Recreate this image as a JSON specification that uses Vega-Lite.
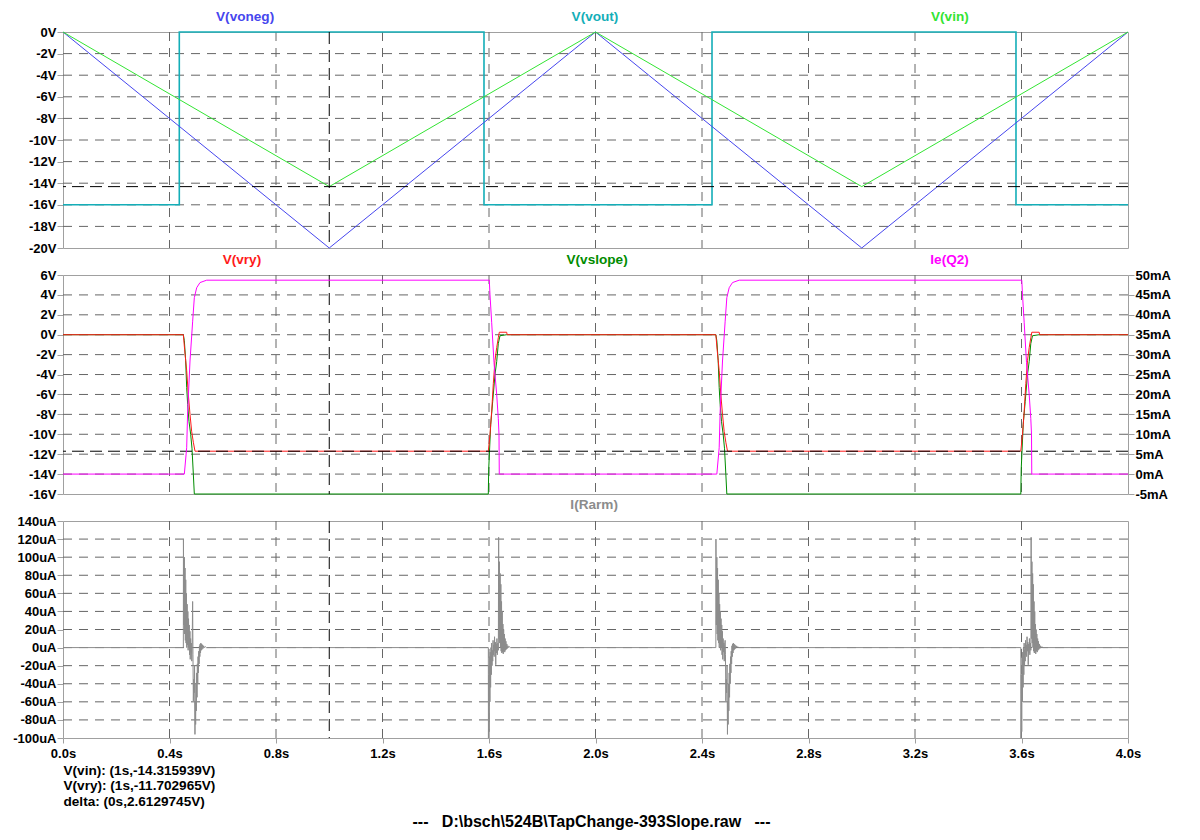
{
"$schema":"https://vega.github.io/schema/vega-lite/v6.json",
"background":"#ffffff",
"padding":{"left":12,"top":9,"right":5,"bottom":5},
"bounds":"flush",
"spacing":27,
"title":{"text":"---\u00a0\u00a0\u00a0D:\\bsch\\524B\\TapChange-393Slope.raw\u00a0\u00a0\u00a0---","orient":"bottom","anchor":"middle","offset":6,"fontSize":16,"fontWeight":"bold","font":"Liberation Sans","color":"#000000"},
"config":{
 "font":"Liberation Sans",
 "view":{"stroke":"#a0a0a0","strokeWidth":1},
 "axis":{"domain":false,"grid":false,"labelFont":"Liberation Sans","labelFontSize":13,"labelFontWeight":"bold","labelColor":"#000000","tickColor":"#a0a0a0","tickSize":6,"labelPadding":1,"labelFlush":false,"titleFont":"Liberation Sans","titleFontSize":13.6,"titleFontWeight":"bold","titleColor":"#000000"}
},
"datasets":{
"xgrid":[{"g":0.4},{"g":0.8},{"g":1.2},{"g":1.6},{"g":2.0},{"g":2.4},{"g":2.8},{"g":3.2},{"g":3.6}],
"top":[
{"s":"V(vout)","t":0,"v":-16},{"s":"V(vout)","t":0.4368,"v":-16},{"s":"V(vout)","t":0.4368,"v":0},{"s":"V(vout)","t":1.5812,"v":0},{"s":"V(vout)","t":1.5812,"v":-16},{"s":"V(vout)","t":2.4376,"v":-16},{"s":"V(vout)","t":2.4376,"v":0},{"s":"V(vout)","t":3.5793,"v":0},{"s":"V(vout)","t":3.5793,"v":-16},{"s":"V(vout)","t":4,"v":-16},
{"s":"V(voneg)","t":0,"v":0},{"s":"V(voneg)","t":1,"v":-20},{"s":"V(voneg)","t":2,"v":0},{"s":"V(voneg)","t":3,"v":-20},{"s":"V(voneg)","t":4,"v":0},
{"s":"V(vin)","t":0,"v":0},{"s":"V(vin)","t":1,"v":-14.315939},{"s":"V(vin)","t":2,"v":0},{"s":"V(vin)","t":3,"v":-14.315939},{"s":"V(vin)","t":4,"v":0}
],
"mid":[
{"s":"V(vslope)","t":0,"v":0},{"s":"V(vslope)","t":0.452,"v":0},{"s":"V(vslope)","t":0.4557,"v":-0.6},{"s":"V(vslope)","t":0.4607,"v":-2.6},{"s":"V(vslope)","t":0.4645,"v":-5.3},{"s":"V(vslope)","t":0.4682,"v":-7},{"s":"V(vslope)","t":0.4732,"v":-8.7},{"s":"V(vslope)","t":0.4795,"v":-10},{"s":"V(vslope)","t":0.4845,"v":-11.4},{"s":"V(vslope)","t":0.4895,"v":-14},{"s":"V(vslope)","t":0.4932,"v":-16},
{"s":"V(vslope)","t":1.5974,"v":-16},{"s":"V(vslope)","t":1.5989,"v":-13.5},{"s":"V(vslope)","t":1.6064,"v":-9},{"s":"V(vslope)","t":1.6139,"v":-6.7},{"s":"V(vslope)","t":1.6225,"v":-4},{"s":"V(vslope)","t":1.6289,"v":-2.7},{"s":"V(vslope)","t":1.6349,"v":-0.9},{"s":"V(vslope)","t":1.6413,"v":-0.1},{"s":"V(vslope)","t":1.6665,"v":0},
{"s":"V(vslope)","t":2.452,"v":0},{"s":"V(vslope)","t":2.4557,"v":-0.6},{"s":"V(vslope)","t":2.4607,"v":-2.6},{"s":"V(vslope)","t":2.4645,"v":-5.3},{"s":"V(vslope)","t":2.4682,"v":-7},{"s":"V(vslope)","t":2.4732,"v":-8.7},{"s":"V(vslope)","t":2.4795,"v":-10},{"s":"V(vslope)","t":2.4845,"v":-11.4},{"s":"V(vslope)","t":2.4895,"v":-14},{"s":"V(vslope)","t":2.4932,"v":-16},
{"s":"V(vslope)","t":3.5974,"v":-16},{"s":"V(vslope)","t":3.5989,"v":-13.5},{"s":"V(vslope)","t":3.6064,"v":-9},{"s":"V(vslope)","t":3.6139,"v":-6.7},{"s":"V(vslope)","t":3.6225,"v":-4},{"s":"V(vslope)","t":3.6289,"v":-2.7},{"s":"V(vslope)","t":3.6349,"v":-0.9},{"s":"V(vslope)","t":3.6413,"v":-0.1},{"s":"V(vslope)","t":3.6665,"v":0},{"s":"V(vslope)","t":4,"v":0},
{"s":"V(vry)","t":0,"v":0},{"s":"V(vry)","t":0.452,"v":0},{"s":"V(vry)","t":0.4569,"v":-1.5},{"s":"V(vry)","t":0.4645,"v":-3.6},{"s":"V(vry)","t":0.4707,"v":-6},{"s":"V(vry)","t":0.477,"v":-8},{"s":"V(vry)","t":0.4832,"v":-9.7},{"s":"V(vry)","t":0.4895,"v":-10.8},{"s":"V(vry)","t":0.4958,"v":-11.7},
{"s":"V(vry)","t":1.5974,"v":-11.7},{"s":"V(vry)","t":1.6038,"v":-10},{"s":"V(vry)","t":1.6101,"v":-7.7},{"s":"V(vry)","t":1.6162,"v":-4.9},{"s":"V(vry)","t":1.6225,"v":-2.6},{"s":"V(vry)","t":1.6289,"v":-1.3},{"s":"V(vry)","t":1.635,"v":-0.3},{"s":"V(vry)","t":1.6387,"v":0.25},{"s":"V(vry)","t":1.6665,"v":0.25},{"s":"V(vry)","t":1.668,"v":0},
{"s":"V(vry)","t":2.452,"v":0},{"s":"V(vry)","t":2.4569,"v":-1.5},{"s":"V(vry)","t":2.4645,"v":-3.6},{"s":"V(vry)","t":2.4707,"v":-6},{"s":"V(vry)","t":2.477,"v":-8},{"s":"V(vry)","t":2.4832,"v":-9.7},{"s":"V(vry)","t":2.4895,"v":-10.8},{"s":"V(vry)","t":2.4958,"v":-11.7},
{"s":"V(vry)","t":3.5974,"v":-11.7},{"s":"V(vry)","t":3.6038,"v":-10},{"s":"V(vry)","t":3.6101,"v":-7.7},{"s":"V(vry)","t":3.6162,"v":-4.9},{"s":"V(vry)","t":3.6225,"v":-2.6},{"s":"V(vry)","t":3.6289,"v":-1.3},{"s":"V(vry)","t":3.635,"v":-0.3},{"s":"V(vry)","t":3.6387,"v":0.25},{"s":"V(vry)","t":3.6665,"v":0.25},{"s":"V(vry)","t":3.668,"v":0},{"s":"V(vry)","t":4,"v":0}
],
"q2":[
{"s":"Ie(Q2)","t":0,"i":0},{"s":"Ie(Q2)","t":0.4557,"i":0},{"s":"Ie(Q2)","t":0.4645,"i":6.6},{"s":"Ie(Q2)","t":0.4682,"i":15.8},{"s":"Ie(Q2)","t":0.477,"i":28.4},{"s":"Ie(Q2)","t":0.487,"i":38.4},{"s":"Ie(Q2)","t":0.4932,"i":44.3},{"s":"Ie(Q2)","t":0.5021,"i":46.8},{"s":"Ie(Q2)","t":0.5146,"i":48.1},{"s":"Ie(Q2)","t":0.5397,"i":48.7},
{"s":"Ie(Q2)","t":1.6011,"i":48.7},{"s":"Ie(Q2)","t":1.6038,"i":45},{"s":"Ie(Q2)","t":1.6101,"i":38},{"s":"Ie(Q2)","t":1.6188,"i":28},{"s":"Ie(Q2)","t":1.6289,"i":20},{"s":"Ie(Q2)","t":1.6349,"i":14},{"s":"Ie(Q2)","t":1.6376,"i":10},{"s":"Ie(Q2)","t":1.6386,"i":0},
{"s":"Ie(Q2)","t":2.4557,"i":0},{"s":"Ie(Q2)","t":2.4645,"i":6.6},{"s":"Ie(Q2)","t":2.4682,"i":15.8},{"s":"Ie(Q2)","t":2.477,"i":28.4},{"s":"Ie(Q2)","t":2.487,"i":38.4},{"s":"Ie(Q2)","t":2.4932,"i":44.3},{"s":"Ie(Q2)","t":2.5021,"i":46.8},{"s":"Ie(Q2)","t":2.5146,"i":48.1},{"s":"Ie(Q2)","t":2.5397,"i":48.7},
{"s":"Ie(Q2)","t":3.6011,"i":48.7},{"s":"Ie(Q2)","t":3.6038,"i":45},{"s":"Ie(Q2)","t":3.6101,"i":38},{"s":"Ie(Q2)","t":3.6188,"i":28},{"s":"Ie(Q2)","t":3.6289,"i":20},{"s":"Ie(Q2)","t":3.6349,"i":14},{"s":"Ie(Q2)","t":3.6376,"i":10},{"s":"Ie(Q2)","t":3.6386,"i":0},{"s":"Ie(Q2)","t":4,"i":0}
],
"rarm":[
{"t":0,"a":0},
{"t":0.452,"a":0},{"t":0.4524,"a":120},{"t":0.4539,"a":25},{"t":0.4558,"a":100},{"t":0.4569,"a":15},{"t":0.4584,"a":88},{"t":0.4595,"a":8},{"t":0.461,"a":75},{"t":0.4621,"a":5},{"t":0.4636,"a":60},{"t":0.4648,"a":0},{"t":0.4663,"a":48},{"t":0.4674,"a":3},{"t":0.4689,"a":40},{"t":0.47,"a":-3},{"t":0.4715,"a":32},{"t":0.4727,"a":0},{"t":0.4742,"a":25},{"t":0.4753,"a":-8},{"t":0.4768,"a":18},{"t":0.4779,"a":-13},{"t":0.4794,"a":10},{"t":0.4805,"a":-5},{"t":0.482,"a":5},{"t":0.4836,"a":-15},{"t":0.4851,"a":3},{"t":0.4869,"a":51},{"t":0.4881,"a":-8},{"t":0.4896,"a":-59},{"t":0.4911,"a":-35},{"t":0.4926,"a":-50},{"t":0.4941,"a":-20},{"t":0.4956,"a":-96},{"t":0.4967,"a":-60},{"t":0.4982,"a":-85},{"t":0.4993,"a":-40},{"t":0.5008,"a":-70},{"t":0.502,"a":-28},{"t":0.5035,"a":-55},{"t":0.5046,"a":-18},{"t":0.5061,"a":-40},{"t":0.5072,"a":-10},{"t":0.5087,"a":-28},{"t":0.5098,"a":-4},{"t":0.5113,"a":-18},{"t":0.5125,"a":2},{"t":0.514,"a":-10},{"t":0.5151,"a":4},{"t":0.5166,"a":-6},{"t":0.5177,"a":5},{"t":0.5192,"a":-3},{"t":0.5207,"a":4},{"t":0.5222,"a":-2},{"t":0.5241,"a":3},{"t":0.526,"a":-1},{"t":0.5282,"a":2},{"t":0.5309,"a":0},{"t":0.5346,"a":1},{"t":0.5384,"a":0},
{"t":1.5975,"a":0},{"t":1.5979,"a":-100},{"t":1.5994,"a":-30},{"t":1.6009,"a":-93},{"t":1.602,"a":-10},{"t":1.6035,"a":-60},{"t":1.6046,"a":-5},{"t":1.6061,"a":-44},{"t":1.6073,"a":0},{"t":1.6088,"a":-30},{"t":1.6099,"a":5},{"t":1.6114,"a":-20},{"t":1.6125,"a":-3},{"t":1.614,"a":-15},{"t":1.6152,"a":8},{"t":1.6167,"a":-8},{"t":1.6178,"a":3},{"t":1.6193,"a":-10},{"t":1.6208,"a":12},{"t":1.6223,"a":-4},{"t":1.6238,"a":6},{"t":1.6253,"a":-19},{"t":1.6268,"a":4},{"t":1.6283,"a":-6},{"t":1.6298,"a":10},{"t":1.6313,"a":-8},{"t":1.6332,"a":5},{"t":1.6351,"a":-3},{"t":1.6362,"a":122},{"t":1.6377,"a":10},{"t":1.6392,"a":95},{"t":1.6403,"a":5},{"t":1.6418,"a":82},{"t":1.6429,"a":0},{"t":1.6445,"a":70},{"t":1.6456,"a":-4},{"t":1.6471,"a":51},{"t":1.6482,"a":-6},{"t":1.6497,"a":40},{"t":1.6508,"a":-5},{"t":1.6523,"a":26},{"t":1.6535,"a":-7},{"t":1.655,"a":20},{"t":1.6561,"a":-4},{"t":1.6576,"a":15},{"t":1.6591,"a":-5},{"t":1.6606,"a":10},{"t":1.6621,"a":-3},{"t":1.6636,"a":7},{"t":1.6651,"a":-2},{"t":1.667,"a":4},{"t":1.6689,"a":-1},{"t":1.6711,"a":2},{"t":1.6737,"a":0},{"t":1.6764,"a":1},{"t":1.6801,"a":0},
{"t":2.452,"a":0},{"t":2.4524,"a":120},{"t":2.4539,"a":25},{"t":2.4558,"a":100},{"t":2.4569,"a":15},{"t":2.4584,"a":88},{"t":2.4595,"a":8},{"t":2.461,"a":75},{"t":2.4621,"a":5},{"t":2.4636,"a":60},{"t":2.4648,"a":0},{"t":2.4663,"a":48},{"t":2.4674,"a":3},{"t":2.4689,"a":40},{"t":2.47,"a":-3},{"t":2.4715,"a":32},{"t":2.4727,"a":0},{"t":2.4742,"a":25},{"t":2.4753,"a":-8},{"t":2.4768,"a":18},{"t":2.4779,"a":-13},{"t":2.4794,"a":10},{"t":2.4805,"a":-5},{"t":2.482,"a":5},{"t":2.4836,"a":-15},{"t":2.4851,"a":3},{"t":2.4869,"a":8},{"t":2.4881,"a":-8},{"t":2.4896,"a":-59},{"t":2.4911,"a":-35},{"t":2.4926,"a":-50},{"t":2.4941,"a":-20},{"t":2.4956,"a":-96},{"t":2.4967,"a":-60},{"t":2.4982,"a":-85},{"t":2.4993,"a":-40},{"t":2.5008,"a":-70},{"t":2.502,"a":-28},{"t":2.5035,"a":-55},{"t":2.5046,"a":-18},{"t":2.5061,"a":-40},{"t":2.5072,"a":-10},{"t":2.5087,"a":-28},{"t":2.5098,"a":-4},{"t":2.5113,"a":-18},{"t":2.5125,"a":2},{"t":2.514,"a":-10},{"t":2.5151,"a":4},{"t":2.5166,"a":-6},{"t":2.5177,"a":5},{"t":2.5192,"a":-3},{"t":2.5207,"a":4},{"t":2.5222,"a":-2},{"t":2.5241,"a":3},{"t":2.526,"a":-1},{"t":2.5282,"a":2},{"t":2.5309,"a":0},{"t":2.5346,"a":1},{"t":2.5384,"a":0},
{"t":3.5975,"a":0},{"t":3.5979,"a":-100},{"t":3.5994,"a":-30},{"t":3.6009,"a":-93},{"t":3.602,"a":-10},{"t":3.6035,"a":-60},{"t":3.6046,"a":-5},{"t":3.6061,"a":-44},{"t":3.6073,"a":0},{"t":3.6088,"a":-30},{"t":3.6099,"a":5},{"t":3.6114,"a":-20},{"t":3.6125,"a":-3},{"t":3.614,"a":-15},{"t":3.6152,"a":8},{"t":3.6167,"a":-8},{"t":3.6178,"a":3},{"t":3.6193,"a":-10},{"t":3.6208,"a":12},{"t":3.6223,"a":-4},{"t":3.6238,"a":6},{"t":3.6253,"a":-19},{"t":3.6268,"a":4},{"t":3.6283,"a":-6},{"t":3.6298,"a":10},{"t":3.6313,"a":-8},{"t":3.6332,"a":5},{"t":3.6351,"a":-3},{"t":3.6362,"a":122},{"t":3.6377,"a":10},{"t":3.6392,"a":95},{"t":3.6403,"a":5},{"t":3.6418,"a":82},{"t":3.6429,"a":0},{"t":3.6445,"a":70},{"t":3.6456,"a":-4},{"t":3.6471,"a":51},{"t":3.6482,"a":-6},{"t":3.6497,"a":40},{"t":3.6508,"a":-5},{"t":3.6523,"a":26},{"t":3.6535,"a":-7},{"t":3.655,"a":20},{"t":3.6561,"a":-4},{"t":3.6576,"a":15},{"t":3.6591,"a":-5},{"t":3.6606,"a":10},{"t":3.6621,"a":-3},{"t":3.6636,"a":7},{"t":3.6651,"a":-2},{"t":3.667,"a":4},{"t":3.6689,"a":-1},{"t":3.6711,"a":2},{"t":3.6737,"a":0},{"t":3.6764,"a":1},{"t":3.6801,"a":0},
{"t":4,"a":0}
]
},
"vconcat":[
{
 "width":1065,"height":216,
 "layer":[
  {"data":{"name":"xgrid"},"mark":{"type":"rule","color":"#666666","strokeDash":[9,7],"strokeWidth":1},
   "encoding":{"x":{"field":"g","type":"quantitative","scale":{"domain":[0,4],"nice":false,"zero":false},"axis":{"values":[0,0.4,0.8,1.2,1.6,2,2.4,2.8,3.2,3.6,4],"labels":false,"ticks":false,"title":null}}}},
  {"data":{"values":[{"g":-2},{"g":-4},{"g":-6},{"g":-8},{"g":-10},{"g":-12},{"g":-14},{"g":-16},{"g":-18}]},"mark":{"type":"rule","color":"#666666","strokeDash":[9,7],"strokeWidth":1},
   "encoding":{"y":{"field":"g","type":"quantitative","scale":{"domain":[-20,0],"nice":false,"zero":false},"axis":{"values":[0,-2,-4,-6,-8,-10,-12,-14,-16,-18,-20],"labelExpr":"datum.value+'V'","title":null,"labelOverlap":false}}}},
  {"data":{"name":"top"},"transform":[{"filter":"datum.s == 'V(vout)'"}],
   "mark":{"type":"line","strokeWidth":1.6},
   "encoding":{
    "x":{"field":"t","type":"quantitative","axis":{"values":[0,0.4,0.8,1.2,1.6,2,2.4,2.8,3.2,3.6,4],"labels":false,"ticks":false,"title":null}},
    "y":{"field":"v","type":"quantitative","axis":{"values":[0,-2,-4,-6,-8,-10,-12,-14,-16,-18,-20],"labelExpr":"datum.value+'V'","title":null,"labelOverlap":false}},
    "color":{"field":"s","type":"nominal","scale":{"domain":["V(voneg)","V(vout)","V(vin)","V(vry)","V(vslope)","Ie(Q2)","I(Rarm)"],"range":["#4646ee","#14aeb8","#33e433","#ff1a1a","#008c00","#ff00ff","#8c8c8c"]},"legend":null},
    "order":{"value":null}
   }},
  {"data":{"name":"top"},"transform":[{"filter":"datum.s != 'V(vout)'"}],
   "mark":{"type":"line","strokeWidth":1},
   "encoding":{
    "x":{"field":"t","type":"quantitative","axis":{"values":[0,0.4,0.8,1.2,1.6,2,2.4,2.8,3.2,3.6,4],"labels":false,"ticks":false,"title":null}},
    "y":{"field":"v","type":"quantitative","axis":{"values":[0,-2,-4,-6,-8,-10,-12,-14,-16,-18,-20],"labelExpr":"datum.value+'V'","title":null,"labelOverlap":false}},
    "color":{"field":"s","type":"nominal","scale":{"domain":["V(voneg)","V(vout)","V(vin)","V(vry)","V(vslope)","Ie(Q2)","I(Rarm)"],"range":["#4646ee","#14aeb8","#33e433","#ff1a1a","#008c00","#ff00ff","#8c8c8c"]},"legend":null},
    "order":{"value":null}
   }},
  {"data":{"values":[{"t":1}]},"mark":{"type":"rule","color":"#000000","strokeDash":[12,6],"strokeWidth":1},
   "encoding":{"x":{"field":"t","type":"quantitative","axis":{"values":[0,0.4,0.8,1.2,1.6,2,2.4,2.8,3.2,3.6,4],"labels":false,"ticks":false,"title":null}}}},
  {"data":{"values":[{"v":-14.315939}]},"mark":{"type":"rule","color":"#000000","strokeDash":[12,6],"strokeWidth":1},
   "encoding":{"y":{"field":"v","type":"quantitative","axis":{"values":[0,-2,-4,-6,-8,-10,-12,-14,-16,-18,-20],"labelExpr":"datum.value+'V'","title":null,"labelOverlap":false}}}},
  {"data":{"values":[{"s":"V(voneg)","t":0.684},{"s":"V(vout)","t":1.998},{"s":"V(vin)","t":3.331}]},
   "mark":{"type":"text","dy":-15,"fontSize":13.6,"fontWeight":"bold","font":"Liberation Sans"},
   "encoding":{
    "x":{"field":"t","type":"quantitative","axis":{"values":[0,0.4,0.8,1.2,1.6,2,2.4,2.8,3.2,3.6,4],"labels":false,"ticks":false,"title":null}},
    "y":{"datum":0,"type":"quantitative","axis":{"values":[0,-2,-4,-6,-8,-10,-12,-14,-16,-18,-20],"labelExpr":"datum.value+'V'","title":null,"labelOverlap":false}},
    "text":{"field":"s"},
    "color":{"field":"s","type":"nominal","scale":{"domain":["V(voneg)","V(vout)","V(vin)","V(vry)","V(vslope)","Ie(Q2)","I(Rarm)"],"range":["#4646ee","#14aeb8","#33e433","#ff1a1a","#008c00","#ff00ff","#8c8c8c"]},"legend":null}
   }}
 ]
},
{
 "width":1065,"height":219,
 "layer":[
  {"layer":[
   {"data":{"name":"xgrid"},"mark":{"type":"rule","color":"#666666","strokeDash":[9,7],"strokeWidth":1},
    "encoding":{"x":{"field":"g","type":"quantitative","scale":{"domain":[0,4],"nice":false,"zero":false},"axis":{"values":[0,0.4,0.8,1.2,1.6,2,2.4,2.8,3.2,3.6,4],"labels":false,"ticks":false,"title":null}}}},
   {"data":{"values":[{"g":4},{"g":2},{"g":0},{"g":-2},{"g":-4},{"g":-6},{"g":-8},{"g":-10},{"g":-12},{"g":-14}]},"mark":{"type":"rule","color":"#666666","strokeDash":[9,7],"strokeWidth":1},
    "encoding":{"y":{"field":"g","type":"quantitative","scale":{"domain":[-16,6],"nice":false,"zero":false},"axis":{"values":[6,4,2,0,-2,-4,-6,-8,-10,-12,-14,-16],"labelExpr":"datum.value+'V'","title":null,"labelOverlap":false}}}},
   {"data":{"name":"mid"},
    "mark":{"type":"line","strokeWidth":1},
    "encoding":{
     "x":{"field":"t","type":"quantitative","axis":{"values":[0,0.4,0.8,1.2,1.6,2,2.4,2.8,3.2,3.6,4],"labels":false,"ticks":false,"title":null}},
     "y":{"field":"v","type":"quantitative","axis":{"values":[6,4,2,0,-2,-4,-6,-8,-10,-12,-14,-16],"labelExpr":"datum.value+'V'","title":null,"labelOverlap":false}},
     "color":{"field":"s","type":"nominal","scale":{"domain":["V(voneg)","V(vout)","V(vin)","V(vry)","V(vslope)","Ie(Q2)","I(Rarm)"],"range":["#4646ee","#14aeb8","#33e433","#ff1a1a","#008c00","#ff00ff","#8c8c8c"]},"legend":null},
     "order":{"value":null}
    }},
   {"data":{"values":[{"t":1}]},"mark":{"type":"rule","color":"#000000","strokeDash":[12,6],"strokeWidth":1},
    "encoding":{"x":{"field":"t","type":"quantitative","axis":{"values":[0,0.4,0.8,1.2,1.6,2,2.4,2.8,3.2,3.6,4],"labels":false,"ticks":false,"title":null}}}},
   {"data":{"values":[{"v":-11.702965}]},"mark":{"type":"rule","color":"#000000","strokeDash":[12,6],"strokeWidth":1},
    "encoding":{"y":{"field":"v","type":"quantitative","axis":{"values":[6,4,2,0,-2,-4,-6,-8,-10,-12,-14,-16],"labelExpr":"datum.value+'V'","title":null,"labelOverlap":false}}}},
   {"data":{"values":[{"s":"V(vry)","t":0.672},{"s":"V(vslope)","t":2.006},{"s":"Ie(Q2)","t":3.33}]},
    "mark":{"type":"text","dy":-15,"fontSize":13.6,"fontWeight":"bold","font":"Liberation Sans"},
    "encoding":{
     "x":{"field":"t","type":"quantitative","axis":{"values":[0,0.4,0.8,1.2,1.6,2,2.4,2.8,3.2,3.6,4],"labels":false,"ticks":false,"title":null}},
     "y":{"datum":6,"type":"quantitative","axis":{"values":[6,4,2,0,-2,-4,-6,-8,-10,-12,-14,-16],"labelExpr":"datum.value+'V'","title":null,"labelOverlap":false}},
     "text":{"field":"s"},
     "color":{"field":"s","type":"nominal","scale":{"domain":["V(voneg)","V(vout)","V(vin)","V(vry)","V(vslope)","Ie(Q2)","I(Rarm)"],"range":["#4646ee","#14aeb8","#33e433","#ff1a1a","#008c00","#ff00ff","#8c8c8c"]},"legend":null}
    }}
  ]},
  {"data":{"name":"q2"},
   "mark":{"type":"line","strokeWidth":1},
   "encoding":{
    "x":{"field":"t","type":"quantitative","axis":{"values":[0,0.4,0.8,1.2,1.6,2,2.4,2.8,3.2,3.6,4],"labels":false,"ticks":false,"title":null}},
    "y":{"field":"i","type":"quantitative","scale":{"domain":[-5,50],"nice":false,"zero":false},"axis":{"orient":"right","values":[50,45,40,35,30,25,20,15,10,5,0,-5],"labelExpr":"datum.value+'mA'","title":null,"labelOverlap":false}},
    "color":{"field":"s","type":"nominal","scale":{"domain":["V(voneg)","V(vout)","V(vin)","V(vry)","V(vslope)","Ie(Q2)","I(Rarm)"],"range":["#4646ee","#14aeb8","#33e433","#ff1a1a","#008c00","#ff00ff","#8c8c8c"]},"legend":null},
    "order":{"value":null}
   }}
 ],
 "resolve":{"scale":{"y":"independent"}}
},
{
 "width":1065,"height":217,
 "layer":[
  {"data":{"name":"xgrid"},"mark":{"type":"rule","color":"#666666","strokeDash":[9,7],"strokeWidth":1},
   "encoding":{"x":{"field":"g","type":"quantitative","scale":{"domain":[0,4],"nice":false,"zero":false},"axis":{"values":[0,0.4,0.8,1.2,1.6,2,2.4,2.8,3.2,3.6,4],"labelExpr":"format(datum.value,'.1f')+'s'","tickSize":5,"labelPadding":4,"labelOverlap":false,
      "title":["V(vin): (1s,-14.315939V)","V(vry): (1s,-11.702965V)","delta: (0s,2.6129745V)"],"titleAnchor":"start","titleAlign":"left","titleBaseline":"top","titleLineHeight":15.5,"titlePadding":3}}}},
  {"data":{"values":[{"g":120},{"g":100},{"g":80},{"g":60},{"g":40},{"g":20},{"g":0},{"g":-20},{"g":-40},{"g":-60},{"g":-80}]},"mark":{"type":"rule","color":"#666666","strokeDash":[9,7],"strokeWidth":1},
   "encoding":{"y":{"field":"g","type":"quantitative","scale":{"domain":[-100,140],"nice":false,"zero":false},"axis":{"values":[140,120,100,80,60,40,20,0,-20,-40,-60,-80,-100],"labelExpr":"datum.value+'uA'","title":null,"labelOverlap":false}}}},
  {"data":{"name":"rarm"},
   "mark":{"type":"line","strokeWidth":1,"color":"#8c8c8c"},
   "encoding":{
    "x":{"field":"t","type":"quantitative","axis":{"values":[0,0.4,0.8,1.2,1.6,2,2.4,2.8,3.2,3.6,4],"labelExpr":"format(datum.value,'.1f')+'s'","tickSize":5,"labelPadding":4,"labelOverlap":false,
      "title":["V(vin): (1s,-14.315939V)","V(vry): (1s,-11.702965V)","delta: (0s,2.6129745V)"],"titleAnchor":"start","titleAlign":"left","titleBaseline":"top","titleLineHeight":15.5,"titlePadding":3}},
    "y":{"field":"a","type":"quantitative","axis":{"values":[140,120,100,80,60,40,20,0,-20,-40,-60,-80,-100],"labelExpr":"datum.value+'uA'","title":null,"labelOverlap":false}},
    "order":{"value":null}
   }},
  {"data":{"values":[{"t":1}]},"mark":{"type":"rule","color":"#000000","strokeDash":[12,6],"strokeWidth":1},
   "encoding":{"x":{"field":"t","type":"quantitative","axis":{"values":[0,0.4,0.8,1.2,1.6,2,2.4,2.8,3.2,3.6,4],"labelExpr":"format(datum.value,'.1f')+'s'","tickSize":5,"labelPadding":4,"labelOverlap":false,
      "title":["V(vin): (1s,-14.315939V)","V(vry): (1s,-11.702965V)","delta: (0s,2.6129745V)"],"titleAnchor":"start","titleAlign":"left","titleBaseline":"top","titleLineHeight":15.5,"titlePadding":3}}}},
  {"data":{"values":[{"s":"I(Rarm)","t":1.995}]},
   "mark":{"type":"text","dy":-16,"fontSize":13.6,"fontWeight":"bold","font":"Liberation Sans"},
   "encoding":{
    "x":{"field":"t","type":"quantitative","axis":{"values":[0,0.4,0.8,1.2,1.6,2,2.4,2.8,3.2,3.6,4],"labelExpr":"format(datum.value,'.1f')+'s'","tickSize":5,"labelPadding":4,"labelOverlap":false,
      "title":["V(vin): (1s,-14.315939V)","V(vry): (1s,-11.702965V)","delta: (0s,2.6129745V)"],"titleAnchor":"start","titleAlign":"left","titleBaseline":"top","titleLineHeight":15.5,"titlePadding":3}},
    "y":{"datum":140,"type":"quantitative","axis":{"values":[140,120,100,80,60,40,20,0,-20,-40,-60,-80,-100],"labelExpr":"datum.value+'uA'","title":null,"labelOverlap":false}},
    "text":{"field":"s"},
    "color":{"field":"s","type":"nominal","scale":{"domain":["V(voneg)","V(vout)","V(vin)","V(vry)","V(vslope)","Ie(Q2)","I(Rarm)"],"range":["#4646ee","#14aeb8","#33e433","#ff1a1a","#008c00","#ff00ff","#8c8c8c"]},"legend":null}
   }}
 ]
}
]
}
